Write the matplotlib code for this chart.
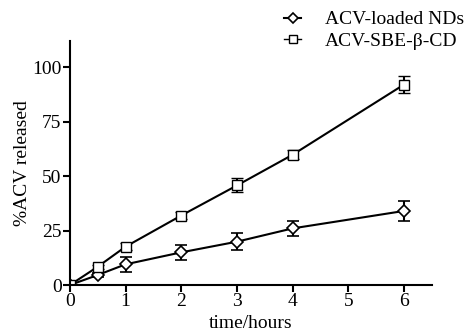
import numpy as np
import matplotlib
matplotlib.use('Agg')
import matplotlib.pyplot as plt
from matplotlib.lines import Line2D

plt.rcParams['font.family'] = ['Liberation Serif', 'DejaVu Serif']

time_h = [0, 0.5, 1, 2, 3, 4, 6]
nds = [0, 4.6, 9.5, 15, 19.9, 26, 34]
nds_err = [0.5, 1.0, 3.3, 3.6, 4.0, 3.6, 4.5]
sbe = [0, 8.4, 17.6, 31.9, 45.7, 59.8, 92]
sbe_err = [0.5, 1.0, 1.5, 1.5, 3.2, 2.0, 4.0]

x_ticks = [0, 1, 2, 3, 4, 5, 6]
y_ticks = [0, 25, 50, 75, 100]

fig = plt.figure(figsize=(4.72, 3.33), dpi=100)
ax = fig.add_axes([0.148, 0.144, 0.767, 0.733])

ax.errorbar(time_h, nds, yerr=nds_err, color='black', lw=1.5, marker='D',
            ms=6, mfc='white', mec='black', mew=1.2, capsize=4, capthick=1.5,
            elinewidth=1.5)
ax.errorbar(time_h, sbe, yerr=sbe_err, color='black', lw=1.5, marker='s',
            ms=7, mfc='white', mec='black', mew=1.0, capsize=4, capthick=1.5,
            elinewidth=1.5)

ax.set_xlim(0, 6.5)
ax.set_ylim(0, 112)
ax.set_xticks(x_ticks)
ax.set_yticks(y_ticks)
ax.spines['top'].set_visible(False)
ax.spines['right'].set_visible(False)
for s in ['left', 'bottom']:
    ax.spines[s].set_linewidth(1.5)
ax.tick_params(direction='out', length=5, width=1.5, labelsize=14, pad=1)
ax.set_xlabel('time/hours', fontsize=14, labelpad=3)
ax.set_ylabel('%ACV released', fontsize=14, labelpad=1)

handles = [
    Line2D([], [], color='black', lw=1.5, marker='D', ms=5, mfc='white',
           mec='black', mew=1.2),
    Line2D([], [], color='black', lw=1.0, marker='s', ms=6, mfc='white',
           mec='black', mew=1.0),
]
fig.legend(handles, ['ACV-loaded NDs', 'ACV-SBE-β-CD'], loc='upper right',
           bbox_to_anchor=(1.02, 1.02), frameon=False, fontsize=14,
           handlelength=0.9, handletextpad=1.2, labelspacing=0.2)

fig.savefig('out.png', dpi=100)
